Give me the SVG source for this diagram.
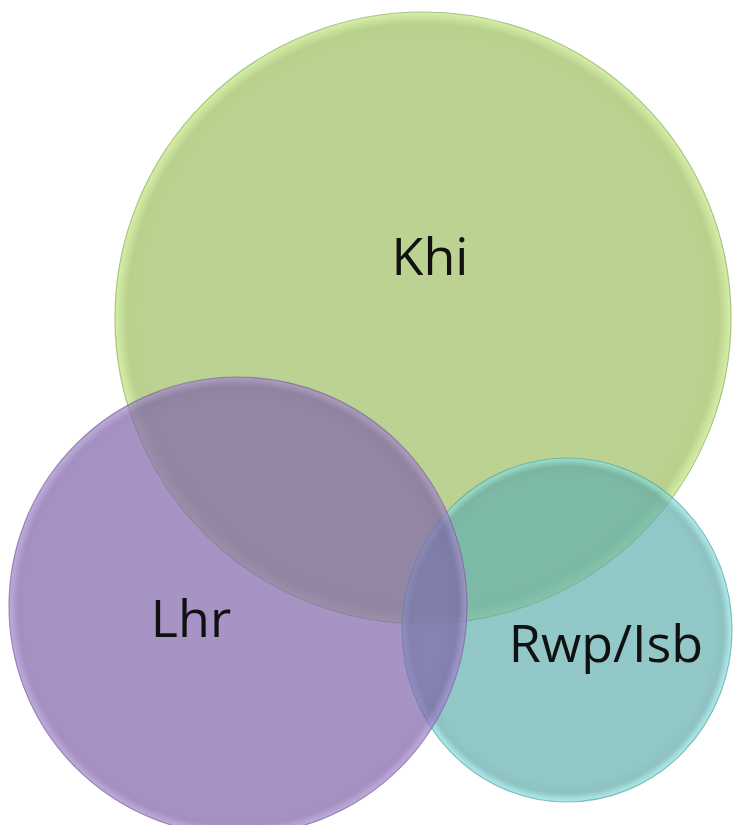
<svg xmlns="http://www.w3.org/2000/svg" width="733" height="825" viewBox="0 0 733 825">
  <defs>
    <radialGradient id="gGreen" cx="0.5" cy="0.5" r="0.5">
      <stop offset="0" stop-color="#bcd292"/>
      <stop offset="0.9" stop-color="#bcd292"/>
      <stop offset="0.96" stop-color="#b8cf8d"/>
      <stop offset="1" stop-color="#d6f0a6"/>
    </radialGradient>
    <radialGradient id="gPurple" cx="0.5" cy="0.5" r="0.5">
      <stop offset="0" stop-color="#8166ac"/>
      <stop offset="0.9" stop-color="#8166ac"/>
      <stop offset="0.96" stop-color="#7c61a6"/>
      <stop offset="1" stop-color="#a58ad0"/>
    </radialGradient>
    <radialGradient id="gTeal" cx="0.5" cy="0.5" r="0.5">
      <stop offset="0" stop-color="#63b0ae"/>
      <stop offset="0.88" stop-color="#63b0ae"/>
      <stop offset="0.95" stop-color="#5ea9a7"/>
      <stop offset="1" stop-color="#8fe6e6"/>
    </radialGradient>
  </defs>
  <style>
    .lbl { font-family: "Open Sans", "Noto Sans", "Liberation Sans", sans-serif; font-size: 52px; fill: #111111; text-anchor: middle; }
    .ring { stroke-width: 1.2; }
  </style>
  <rect width="733" height="825" fill="#ffffff"/>
  <g id="khi">
    <ellipse class="ring" cx="423" cy="318" rx="308" ry="306" fill="url(#gGreen)" stroke="#a9c283"/>
    <text class="lbl" x="430" y="275">Khi</text>
  </g>
  <g id="rwp-isb">
    <ellipse class="ring" cx="567" cy="630" rx="165" ry="172" fill="url(#gTeal)" fill-opacity="0.7" stroke="#5aa5a3" stroke-opacity="0.7"/>
    <text class="lbl" x="606" y="662">Rwp/Isb</text>
  </g>
  <g id="lhr">
    <ellipse class="ring" cx="238" cy="606" rx="229" ry="229" fill="url(#gPurple)" fill-opacity="0.7" stroke="#7a62a0" stroke-opacity="0.7"/>
    <text class="lbl" x="191" y="637">Lhr</text>
  </g>
</svg>
